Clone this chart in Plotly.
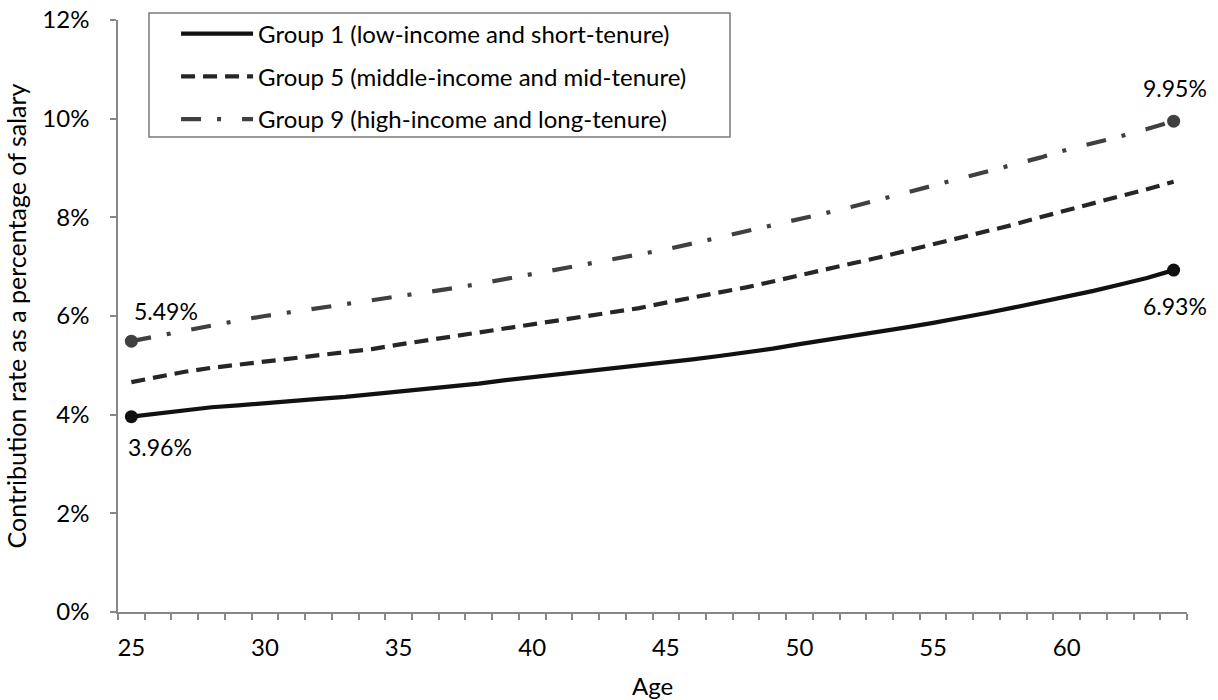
import plotly.graph_objects as go

ages = list(range(25, 65))

group1 = [3.96, 4.03, 4.10, 4.15, 4.19, 4.24, 4.28, 4.32, 4.36, 4.41,
          4.47, 4.52, 4.57, 4.63, 4.70, 4.76, 4.82, 4.88, 4.92, 4.98,
          5.05, 5.12, 5.19, 5.26, 5.34, 5.43, 5.51, 5.59, 5.68, 5.77,
          5.86, 5.95, 6.06, 6.17, 6.28, 6.39, 6.51, 6.64, 6.77, 6.93]

group5 = [4.66, 4.77, 4.87, 4.95, 5.01, 5.08, 5.14, 5.21, 5.27, 5.33,
          5.42, 5.50, 5.58, 5.67, 5.75, 5.83, 5.91, 6.00, 6.07, 6.16,
          6.27, 6.37, 6.47, 6.58, 6.70, 6.83, 6.95, 7.07, 7.19, 7.32,
          7.44, 7.57, 7.71, 7.85, 8.00, 8.15, 8.29, 8.43, 8.57, 8.72]

group9 = [5.49, 5.60, 5.71, 5.81, 5.91, 6.00, 6.08, 6.15, 6.22, 6.30,
          6.38, 6.47, 6.56, 6.65, 6.75, 6.85, 6.94, 7.04, 7.14, 7.24,
          7.35, 7.47, 7.59, 7.71, 7.83, 7.96, 8.09, 8.22, 8.36, 8.51,
          8.66, 8.79, 8.93, 9.06, 9.21, 9.37, 9.50, 9.64, 9.79, 9.95]

names = ["Group 1 (low-income and short-tenure)",
         "Group 5 (middle-income and mid-tenure)",
         "Group 9 (high-income and long-tenure)"]

y_ticks = [0, 2, 4, 6, 8, 10, 12]
x_ticks = [25, 30, 35, 40, 45, 50, 55, 60]

FONT = "Lato, 'Open Sans', sans-serif"
AXIS_GREY = "#878787"
C1, C5, C9 = "#111111", "#262626", "#404040"
FS = 24


def pct(v):
    return f"{v:.2f}%"


fig = go.Figure()

fig.add_trace(go.Scatter(
    x=ages, y=group1, mode="lines", name=names[0], legendgroup="g1",
    line=dict(color=C1, width=4.2)))
fig.add_trace(go.Scatter(
    x=ages, y=group5, mode="lines", name=names[1], legendgroup="g5",
    line=dict(color=C5, width=4.2, dash="14px,8px")))
fig.add_trace(go.Scatter(
    x=ages, y=group9, mode="lines", name=names[2], legendgroup="g9",
    line=dict(color=C9, width=4.2, dash="20px,16px,4px,21px")))

# end-point markers for groups 1 and 9
for series, color, grp in ((group1, C1, "g1"), (group9, C9, "g9")):
    fig.add_trace(go.Scatter(
        x=[ages[0], ages[-1]], y=[series[0], series[-1]], mode="markers",
        legendgroup=grp,
        marker=dict(color=color, size=13), showlegend=False, hoverinfo="skip"))

# value labels at the end points
labels = [
    (ages[0], group9[0], 30, "left", 1),
    (ages[0], group1[0], -30, "left", -5),
    (ages[-1], group9[-1], 33, "center", 1),
    (ages[-1], group1[-1], -36, "center", 1),
]
for x, y, ys, anchor, xs in labels:
    fig.add_annotation(x=x, y=y, text=pct(y), showarrow=False,
                       xanchor=anchor, yanchor="middle", xshift=xs, yshift=ys,
                       font=dict(family=FONT, size=FS - 1, color="#000000"))

# framed box behind the legend entries
fig.add_shape(type="rect", xref="paper", yref="paper",
              x0=0.029, x1=0.5725, y0=0.8024, y1=1.0118,
              line=dict(color="#7a7a7a", width=1.5), fillcolor="white",
              layer="below")

fig.update_layout(
    width=1218, height=700,
    margin=dict(l=118, r=31, t=20, b=88, autoexpand=False),
    paper_bgcolor="white", plot_bgcolor="white",
    font=dict(family=FONT, size=FS, color="#000000"),
    showlegend=True,
    legend=dict(
        x=0.0543, y=1.0143, xanchor="left", yanchor="top",
        bgcolor="rgba(0,0,0,0)", borderwidth=0,
        font=dict(family=FONT, size=FS, color="#000000"),
        itemwidth=72, tracegroupgap=8.5, traceorder="grouped",
    ),
    xaxis=dict(
        range=[24.5, 64.5], tickmode="array", tickvals=x_ticks,
        ticktext=[str(v) for v in x_ticks], automargin=False,
        ticks="", showgrid=False, zeroline=False,
        showline=True, linecolor=AXIS_GREY, linewidth=1.5,
        ticklabelstandoff=13,
        minor=dict(ticks="outside", tick0=24.5, dtick=1, ticklen=6,
                   tickcolor=AXIS_GREY, tickwidth=1.5, showgrid=False),
        title=dict(text="Age", standoff=20, font=dict(size=FS)),
        tickfont=dict(size=FS),
    ),
    yaxis=dict(
        range=[0, 12], tickmode="array", tickvals=y_ticks,
        ticktext=[f"{v}%" for v in y_ticks], automargin=False,
        ticks="outside", ticklen=6, tickcolor=AXIS_GREY, tickwidth=1.5,
        showgrid=False, zeroline=False,
        showline=True, linecolor=AXIS_GREY, linewidth=1.5,
        ticklabelstandoff=16,
        title=dict(text="Contribution rate as a percentage of salary",
                   standoff=9, font=dict(size=25)),
        tickfont=dict(size=FS),
    ),
)

fig.write_html("out.html")
